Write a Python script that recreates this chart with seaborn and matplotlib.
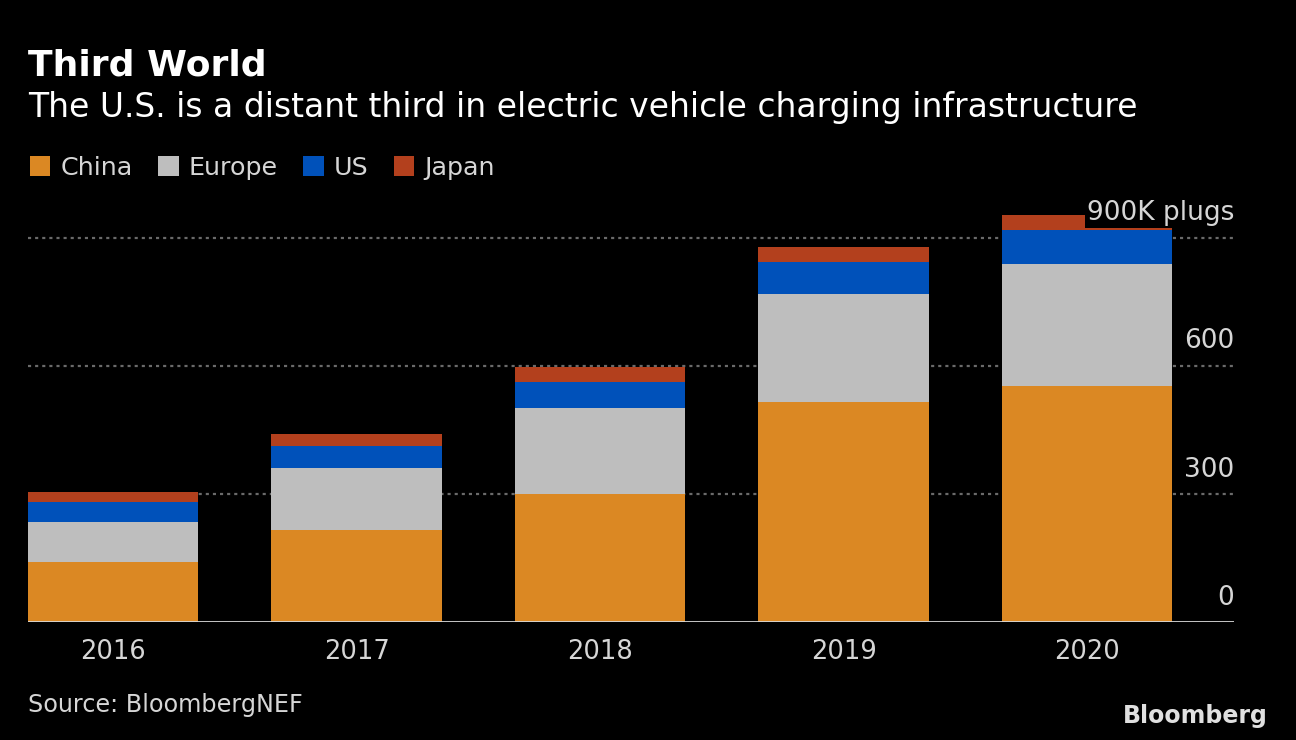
import matplotlib
matplotlib.use("Agg")
import pandas as pd
import seaborn as sns
import matplotlib.pyplot as plt
from matplotlib.patches import Patch
from matplotlib.transforms import blended_transform_factory, offset_copy

# data (thousands of plugs)
years = ["2016", "2017", "2018", "2019", "2020"]
china = [141, 216, 300, 516, 553]
europe = [93, 145, 202, 253, 286]
us = [47, 52, 61, 75, 80]
japan = [23, 28, 33, 33, 33]
ytick_vals = [0, 300, 600, 900]
ytick_labels = ["0", "300", "600", "900K plugs"]

colors = {"China": "#db8823", "Europe": "#bebebe", "US": "#0051ba", "Japan": "#b3401d"}
text_col = "#d6d6d6"

df = pd.DataFrame({"year": years, "China": china, "Europe": europe, "US": us, "Japan": japan})
df["c_china"] = df["China"]
df["c_europe"] = df["c_china"] + df["Europe"]
df["c_us"] = df["c_europe"] + df["US"]
df["c_japan"] = df["c_us"] + df["Japan"]

sns.set_theme(style="white")
plt.rcParams["font.family"] = ["DejaVu Sans"]

fig = plt.figure(figsize=(12.96, 7.4), dpi=100, facecolor="black")
ax = fig.add_axes([28 / 1296, 118 / 740, (1234 - 28) / 1296, 410 / 740])
ax.set_facecolor("black")

# stacked bars: draw cumulative totals tallest first
for col, name in [("c_japan", "Japan"), ("c_us", "US"), ("c_europe", "Europe"), ("c_china", "China")]:
    sns.barplot(data=df, x="year", y=col, color=colors[name], width=0.7,
                saturation=1, linewidth=0, ax=ax)

ax.set_xlim(-0.35, 4.604)
ax.set_ylim(0, 960)

for v in ytick_vals[1:]:
    ax.axhline(v, color="#6a6a6a", lw=1.6, linestyle=(0, (1.4, 1.8)), zorder=0.5)
ax.axhline(0, color="#d8d8d8", lw=2, zorder=3)

trans = blended_transform_factory(ax.transAxes, ax.transData)
trans = offset_copy(trans, fig=fig, y=12.5, units="points")
for v, lab in zip(ytick_vals, ytick_labels):
    t = ax.text(1.0, v, lab, transform=trans, ha="right", va="baseline",
                fontsize=19, color=text_col, zorder=4)
    if v == 900:
        t.set_bbox(dict(facecolor="black", edgecolor="none", pad=1.5))

ax.set_xlabel("")
ax.set_ylabel("")
ax.set_yticks([])
ax.tick_params(axis="x", length=0, pad=12, labelsize=18.5, labelcolor=text_col)
for s in ax.spines.values():
    s.set_visible(False)

fig.text(28 / 1296, 1 - 75 / 740, "Third World", fontsize=26, fontweight="bold",
         color="white", ha="left", va="baseline")
fig.text(28 / 1296, 1 - 117 / 740, "The U.S. is a distant third in electric vehicle charging infrastructure",
         fontsize=23.8, color="white", ha="left", va="baseline")

handles = [Patch(facecolor=colors[n], edgecolor="none", label=n) for n in ["China", "Europe", "US", "Japan"]]
leg = fig.legend(handles=handles, loc="center left", bbox_to_anchor=(30 / 1296, 1 - 168 / 740),
                 ncol=4, frameon=False, fontsize=18.3, handlelength=0.8, handleheight=0.8,
                 handletextpad=0.4, columnspacing=1.0, borderpad=0, borderaxespad=0)
for t in leg.get_texts():
    t.set_color(text_col)

fig.text(28 / 1296, 1 - 712 / 740, "Source: BloombergNEF", fontsize=17.2, color=text_col,
         ha="left", va="baseline")
fig.text(1268 / 1296, 1 - 723 / 740, "Bloomberg", fontsize=17, fontweight="bold",
         color="#e0e0e0", ha="right", va="baseline")

fig.savefig("out.png", dpi=100, facecolor="black")
